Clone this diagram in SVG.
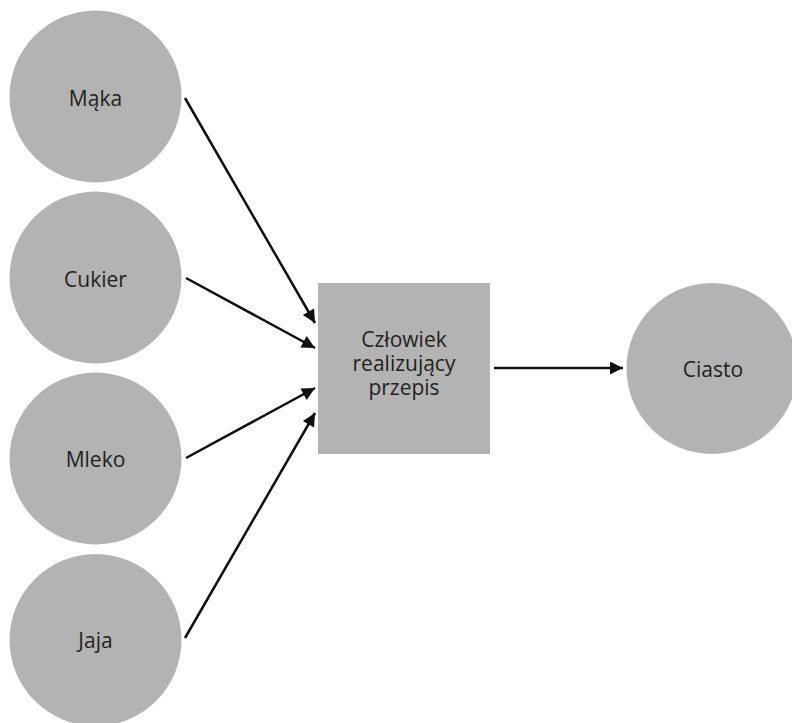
<svg xmlns="http://www.w3.org/2000/svg" width="792" height="723" viewBox="0 0 792 723">
<style>
.node{fill:#b3b3b3;}
.lbl{font-family:"Open Sans","Noto Sans",sans-serif;font-size:21px;fill:#231f20;text-anchor:middle;}
.edge{stroke:#111;stroke-width:2.5;fill:none;marker-end:url(#ah);}
</style>
<defs>
<marker id="ah" viewBox="0 0 10 10" refX="10" refY="5" markerWidth="6.4" markerHeight="5.2" markerUnits="strokeWidth" orient="auto">
<path d="M0,0 L10,5 L0,10 z" fill="#111"/>
</marker>
</defs>
<rect width="792" height="723" fill="#ffffff"/>
<g id="maka"><circle class="node" cx="95.5" cy="96.5" r="86"/><text class="lbl" x="95.5" y="106">Mąka</text></g>
<g id="cukier"><circle class="node" cx="95.5" cy="277.5" r="86"/><text class="lbl" x="95.5" y="287">Cukier</text></g>
<g id="mleko"><circle class="node" cx="95.5" cy="458.5" r="86"/><text class="lbl" x="95.5" y="467">Mleko</text></g>
<g id="jaja"><circle class="node" cx="95.5" cy="640" r="86"/><text class="lbl" x="95.5" y="648">Jaja</text></g>
<g id="czlowiek"><rect class="node" x="318" y="283" width="172" height="171"/>
<text class="lbl" x="404" y="347">Człowiek</text>
<text class="lbl" x="404" y="371">realizujący</text>
<text class="lbl" x="404" y="395">przepis</text></g>
<g id="ciasto"><circle class="node" cx="712" cy="368.5" r="85.5"/><text class="lbl" x="713" y="377">Ciasto</text></g>
<g id="connectors">
<line class="edge" x1="185" y1="98" x2="315" y2="323"/>
<line class="edge" x1="186" y1="278" x2="315" y2="348"/>
<line class="edge" x1="186" y1="458" x2="315" y2="388"/>
<line class="edge" x1="185" y1="638" x2="315" y2="413"/>
<line class="edge" x1="494" y1="368" x2="623" y2="368"/>
</g>
</svg>
